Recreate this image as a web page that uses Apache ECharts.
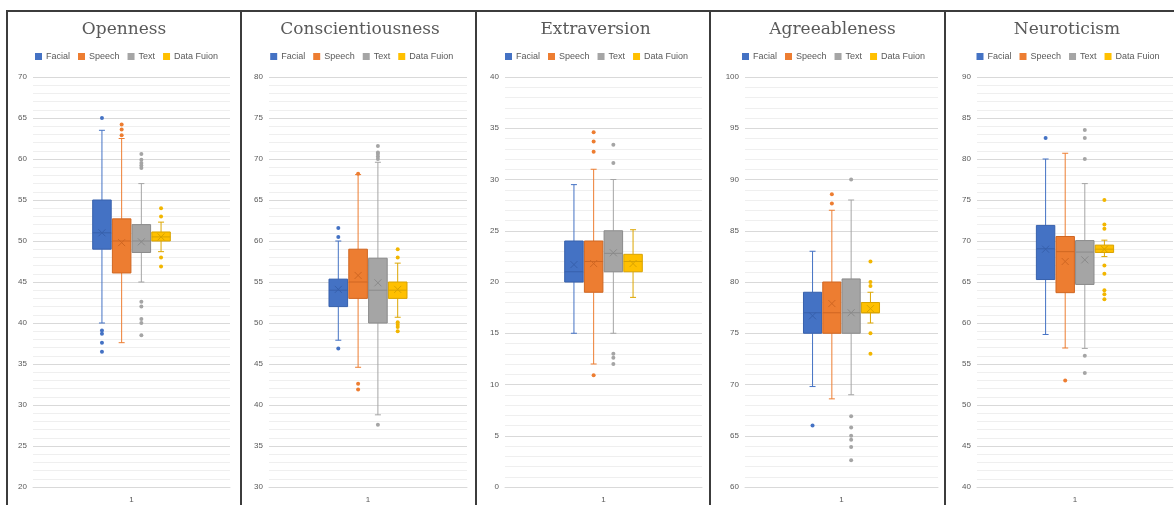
<!DOCTYPE html>
<html>
<head>
<meta charset="utf-8">
<script src="https://cdn.jsdelivr.net/npm/echarts@6/dist/echarts.min.js"></script>
<style>
  html, body { margin: 0; padding: 0; background: #fff; width: 1174px; height: 505px; overflow: hidden; position: relative; }
  .panel { position: absolute; top: 0; width: 234px; height: 505px; }
  .rule { position: absolute; background: #3c3c3c; z-index: 5; pointer-events: none; }
</style>
</head>
<body>
<script>
// ---- data ----
const traits = ['Openness', 'Conscientiousness', 'Extraversion', 'Agreeableness', 'Neuroticism'];
const sources = ['Facial', 'Speech', 'Text', 'Data Fuion'];
const xCategories = ['1'];
const axisMin = [20, 30, 0, 60, 40];
const axisMax = [70, 80, 40, 100, 90];
const axisInterval = 5;

// per source: [lower whisker, Q1, median, Q3, upper whisker]
const opennessBoxes = [[40, 49, 51, 55, 63.5], [37.6, 46.1, 50, 52.7, 62.5], [45, 48.6, 50, 52, 57], [48.7, 50, 50.5, 51.1, 52.3]];
const opennessMeans = [51, 49.8, 49.9, 50.5];
const opennessOutliers = [[65, 39.1, 38.7, 37.6, 36.5], [64.2, 63.6, 62.9], [60.6, 59.9, 59.5, 59.2, 58.9, 42.6, 42, 40.5, 40, 38.5], [54, 53, 48, 46.9]];

const conscientiousnessBoxes = [[47.9, 52, 54, 55.35, 60], [44.6, 53, 55, 59, 68.1], [38.8, 50, 54, 57.9, 69.6], [50.7, 53, 54, 55, 57.3]];
const conscientiousnessMeans = [54.1, 55.8, 54.9, 54.1];
const conscientiousnessOutliers = [[61.6, 60.5, 46.9], [68.2, 42.6, 41.9], [71.6, 70.8, 70.6, 70.3, 70, 37.6], [59, 58, 50.1, 49.8, 49.5, 49]];

const extraversionBoxes = [[15, 20, 21, 24, 29.5], [12, 19, 22, 24, 31], [15, 21, 22.8, 25, 30], [18.5, 21, 22, 22.7, 25.1]];
const extraversionMeans = [21.7, 21.8, 22.85, 21.8];
const extraversionOutliers = [[], [34.6, 33.7, 32.7, 10.9], [33.4, 31.6, 13, 12.6, 12], []];

const agreeablenessBoxes = [[69.8, 75, 77, 79, 83], [68.6, 75, 77, 80, 87], [69, 75, 77, 80.3, 88], [76, 77, 77, 78, 79]];
const agreeablenessMeans = [76.7, 77.9, 77, 77.4];
const agreeablenessOutliers = [[66], [88.55, 87.65], [90, 66.9, 65.8, 65, 64.6, 63.9, 62.6], [82, 80, 79.6, 75, 73]];

const neuroticismBoxes = [[58.6, 65.3, 69.05, 71.9, 80], [56.95, 63.7, 68.7, 70.55, 80.7], [56.9, 64.7, 68.65, 70.05, 77], [68.1, 68.6, 69, 69.5, 70.1]];
const neuroticismMeans = [69, 67.5, 67.7, 69];
const neuroticismOutliers = [[82.55], [53], [83.55, 82.55, 80, 56, 53.9], [75, 72, 71.5, 67, 66, 64, 63.5, 62.9]];

const boxesByTrait = [opennessBoxes, conscientiousnessBoxes, extraversionBoxes, agreeablenessBoxes, neuroticismBoxes];
const meansByTrait = [opennessMeans, conscientiousnessMeans, extraversionMeans, agreeablenessMeans, neuroticismMeans];
const outliersByTrait = [opennessOutliers, conscientiousnessOutliers, extraversionOutliers, agreeablenessOutliers, neuroticismOutliers];

// ---- look ----
const fillColors = ['#4472C4', '#ED7D31', '#A5A5A5', '#FFC000'];
const edgeColors = ['#3760AC', '#CF6622', '#8A8A8A', '#D9A300'];
const whiskerColors = ['#4472C4', '#ED7D31', '#A5A5A5', '#DDA600'];
const dotColors = ['#4472C4', '#ED7D31', '#A5A5A5', '#F2B600'];

const panelLeft = [7, 241, 476, 710, 945];
const gridLeft = [26, 28, 29, 35, 32];
const gridWidth = [197, 198, 197, 193, 196];
const titleCenter = [117, 119, 119.5, 122.5, 122];
const legendCenter = [119.5, 120.7, 120.5, 123.5, 123];
const legendWidth = 183;

const PITCH = 0.1;     // distance between neighbouring boxes, share of the band
const BOX = 0.094;     // box width, share of the band
const CAP = 3;         // half width of whisker caps, px
const CROSS = 3.5;     // half size of the mean marker, px

function slotX(api, j) {
  const band = api.size([1, 0])[0];
  return { cx: api.coord([api.value(0), 0])[0] + (j - 1.5) * band * PITCH, half: band * BOX / 2 };
}

function makeBox(j) {
  return function (params, api) {
    const { cx, half } = slotX(api, j);
    const py = k => api.coord([api.value(0), api.value(k)])[1];
    const lo = py(1), q1 = py(2), md = py(3), q3 = py(4), hi = py(5), mn = py(6);
    const ws = { stroke: whiskerColors[j], lineWidth: 1, fill: null };
    const es = { stroke: edgeColors[j], lineWidth: 1, fill: null };
    return {
      type: 'group',
      children: [
        { type: 'line', shape: { x1: cx, y1: hi, x2: cx, y2: q3 }, style: ws },
        { type: 'line', shape: { x1: cx, y1: q1, x2: cx, y2: lo }, style: ws },
        { type: 'line', shape: { x1: cx - CAP, y1: hi, x2: cx + CAP, y2: hi }, style: ws },
        { type: 'line', shape: { x1: cx - CAP, y1: lo, x2: cx + CAP, y2: lo }, style: ws },
        { type: 'rect', shape: { x: cx - half, y: q3, width: half * 2, height: q1 - q3 },
          style: { fill: fillColors[j], stroke: edgeColors[j], lineWidth: 1 } },
        { type: 'line', shape: { x1: cx - half, y1: md, x2: cx + half, y2: md }, style: es },
        { type: 'line', shape: { x1: cx - CROSS, y1: mn - CROSS, x2: cx + CROSS, y2: mn + CROSS }, style: es },
        { type: 'line', shape: { x1: cx - CROSS, y1: mn + CROSS, x2: cx + CROSS, y2: mn - CROSS }, style: es }
      ]
    };
  };
}

function makeDot(j) {
  return function (params, api) {
    const { cx } = slotX(api, j);
    const y = api.coord([api.value(0), api.value(1)])[1];
    return { type: 'circle', shape: { cx: cx, cy: y, r: 2 }, style: { fill: dotColors[j] } };
  };
}

// ---- panels ----
const labelFont = 'Liberation Sans, Arial, sans-serif';

traits.forEach(function (trait, i) {
  const el = document.createElement('div');
  el.className = 'panel';
  el.style.left = panelLeft[i] + 'px';
  document.body.appendChild(el);
  const chart = echarts.init(el, null, { renderer: 'canvas', width: 234, height: 505 });

  const series = [];
  sources.forEach(function (src, j) {
    const b = boxesByTrait[i][j];
    series.push({
      type: 'custom', name: src, renderItem: makeBox(j),
      itemStyle: { color: fillColors[j] },
      encode: { x: 0, y: [1, 2, 3, 4, 5, 6] },
      data: [[0, b[0], b[1], b[2], b[3], b[4], meansByTrait[i][j]]],
      z: 3, silent: true
    });
    series.push({
      type: 'custom', name: src, renderItem: makeDot(j),
      itemStyle: { color: fillColors[j] },
      encode: { x: 0, y: 1 },
      data: outliersByTrait[i][j].map(v => [0, v]),
      z: 4, silent: true
    });
  });

  chart.setOption({
    animation: false,
    backgroundColor: '#fff',
    title: {
      text: trait, left: titleCenter[i], top: 30, padding: 0,
      textAlign: 'center', textVerticalAlign: 'middle',
      textStyle: { fontFamily: 'DejaVu Serif, serif', fontSize: 17, fontWeight: 'normal', color: '#595959' }
    },
    legend: {
      data: sources, left: legendCenter[i] - legendWidth / 2, top: 52, padding: 0,
      icon: 'rect', itemWidth: 7, itemHeight: 7, itemGap: 8,
      textStyle: { fontFamily: labelFont, fontSize: 9, color: '#595959', padding: [0, 0, 0, -1] },
      selectedMode: false
    },
    grid: { left: gridLeft[i], width: gridWidth[i], top: 77, height: 410, containLabel: false },
    xAxis: {
      type: 'category', data: xCategories,
      axisLine: { lineStyle: { color: '#d9d9d9' } },
      axisTick: { show: false },
      axisLabel: { fontFamily: labelFont, fontSize: 8, color: '#595959', margin: 9 },
      splitLine: { show: false }
    },
    yAxis: {
      type: 'value', min: axisMin[i], max: axisMax[i], interval: axisInterval,
      axisLine: { show: false }, axisTick: { show: false },
      axisLabel: { fontFamily: labelFont, fontSize: 8, color: '#595959', margin: 6 },
      splitLine: { lineStyle: { color: '#d9d9d9' } },
      minorTick: { show: false, splitNumber: 5 },
      minorSplitLine: { show: true, lineStyle: { color: '#efefef' } }
    },
    series: series
  });
});

// panel frames
function rule(x, y, w, h) {
  const r = document.createElement('div');
  r.className = 'rule';
  r.style.left = x + 'px'; r.style.top = y + 'px';
  r.style.width = w + 'px'; r.style.height = h + 'px';
  document.body.appendChild(r);
}
rule(6, 10, 1168, 2);
panelLeft.forEach(function (x) { rule(x - 1, 10, 2, 495); });
</script>
</body>
</html>
